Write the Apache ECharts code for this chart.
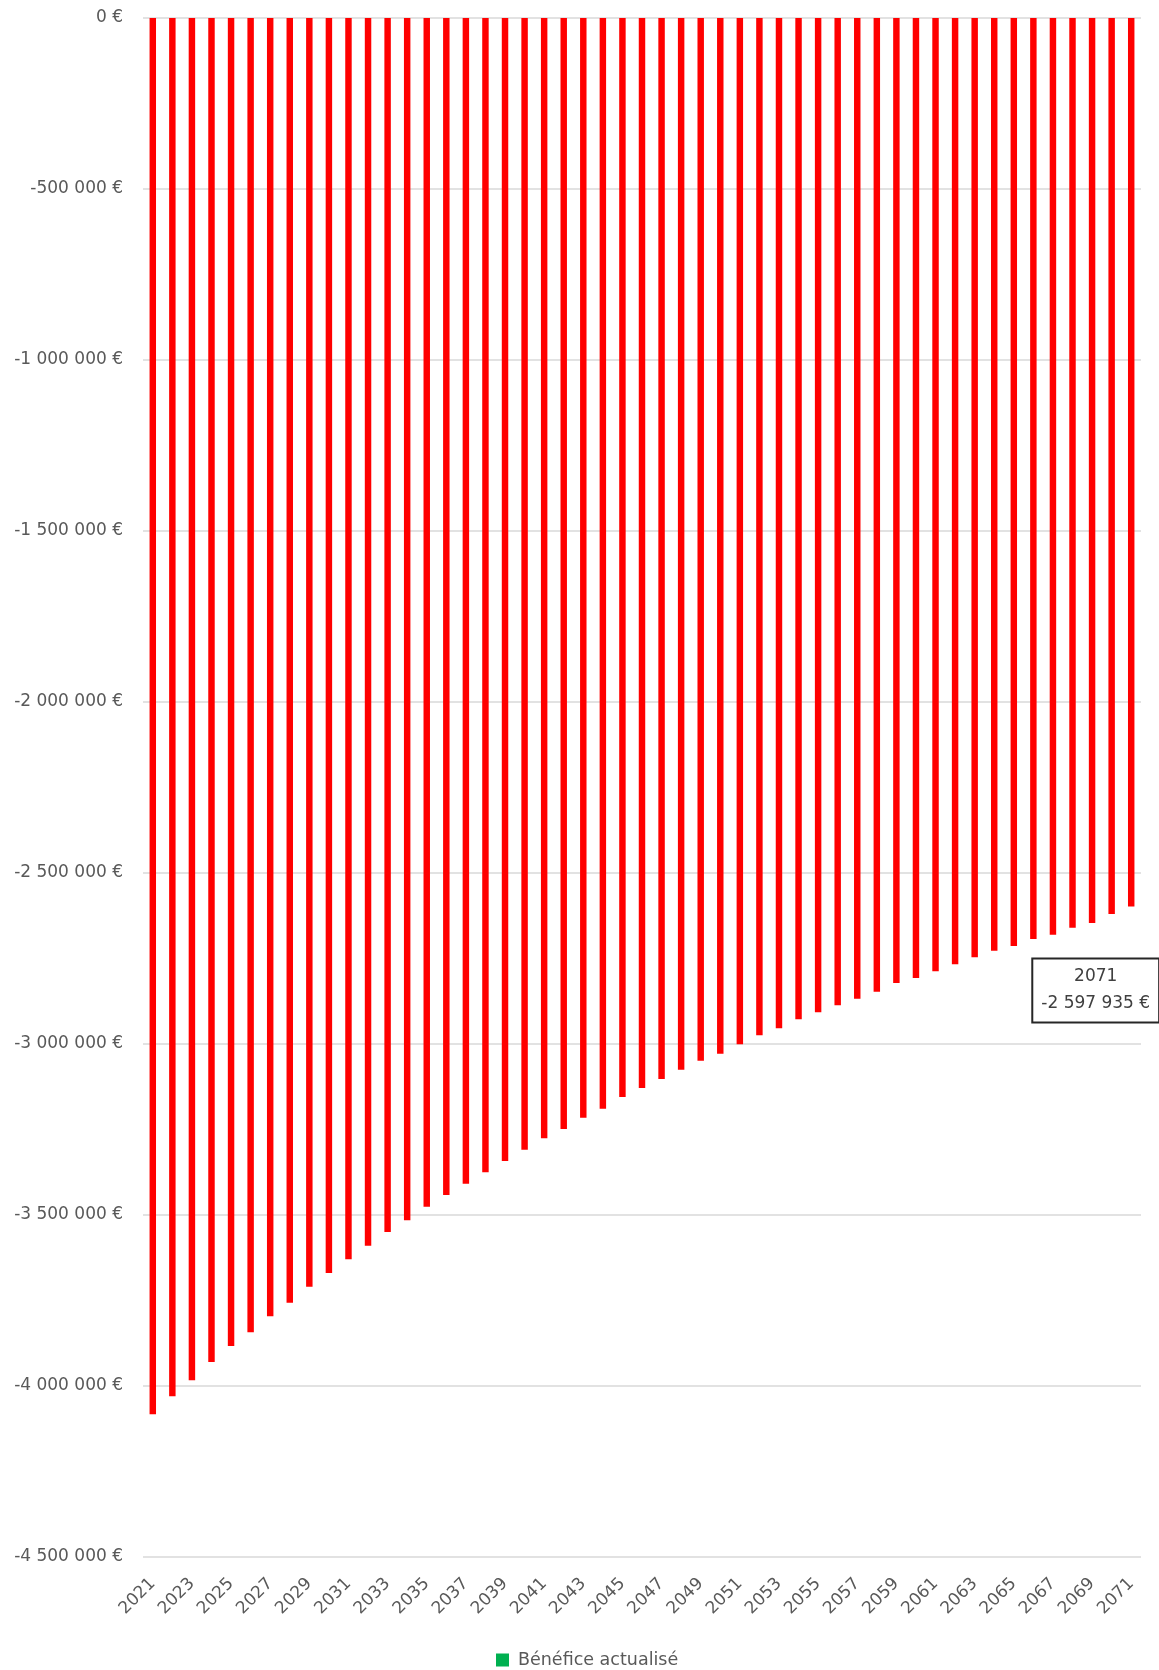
<!DOCTYPE html>
<html>
<head>
<meta charset="utf-8">
<script src="https://cdn.jsdelivr.net/npm/echarts@6/dist/echarts.min.js"></script>
<style>
  html, body { margin: 0; padding: 0; background: #ffffff; }
  #chart { width: 1159px; height: 1670px; }
</style>
</head>
<body>
<div id="chart"></div>
<script>
const years = ['2021','2022','2023','2024','2025','2026','2027','2028','2029','2030',
  '2031','2032','2033','2034','2035','2036','2037','2038','2039','2040',
  '2041','2042','2043','2044','2045','2046','2047','2048','2049','2050',
  '2051','2052','2053','2054','2055','2056','2057','2058','2059','2060',
  '2061','2062','2063','2064','2065','2066','2067','2068','2069','2070','2071'];

const beneficeActualise = [-4082900,-4030200,-3983400,-3930000,-3883100,-3843100,-3796300,-3756400,-3709600,-3669600,
  -3629700,-3589700,-3549700,-3515600,-3475800,-3441600,-3408500,-3375300,-3342200,-3309200,
  -3275800,-3248600,-3215500,-3189200,-3155000,-3128700,-3102400,-3075200,-3048900,-3028400,
  -3001000,-2974700,-2954200,-2927900,-2907400,-2886900,-2867500,-2847100,-2821700,-2807100,
  -2787500,-2767000,-2746500,-2727200,-2713500,-2693000,-2680400,-2659900,-2646100,-2619900,-2597935];

const seriesName = 'Bénéfice actualisé';
const labelledYear = '2071';

function fmtEuro(v) {
  const neg = v < 0;
  const s = String(Math.round(Math.abs(v))).replace(/\B(?=(\d{3})+(?!\d))/g, ' ');
  return (neg ? '-' : '') + s + ' €';
}

const font = 'DejaVu Sans';
const textGrey = '#595959';

const dataItems = beneficeActualise.map((v, i) => {
  const item = { value: v, itemStyle: { color: '#FF0000' } };
  if (years[i] === labelledYear) {
    item.label = {
      show: true,
      position: 'bottom',
      distance: 0,
      offset: [-35.5, 53],
      formatter: (p) => p.name + '\n' + fmtEuro(p.value),
      fontFamily: font,
      fontSize: 17,
      lineHeight: 27,
      color: '#404040',
      align: 'center',
      backgroundColor: '#ffffff',
      borderColor: '#262626',
      borderWidth: 2,
      padding: [4, 8, 4, 8]
    };
  }
  return item;
});

const chart = echarts.init(document.getElementById('chart'), null, { renderer: 'canvas' });
chart.setOption({
  animation: false,
  backgroundColor: '#ffffff',
  grid: { left: 143, right: 18, top: 18, bottom: 113, containLabel: false },
  legend: {
    data: [{ name: seriesName, itemStyle: { color: '#00B050' } }],
    top: 1646,
    left: 491,
    icon: 'rect',
    itemWidth: 13,
    itemHeight: 13,
    itemGap: 10,
    textStyle: { fontFamily: font, fontSize: 17.5, color: textGrey, padding: [0, 0, 0, 4] }
  },
  xAxis: {
    type: 'category',
    data: years,
    position: 'bottom',
    axisLine: { show: false, onZero: false },
    axisTick: { show: false },
    axisLabel: {
      interval: 1,
      rotate: 45,
      margin: 24,
      fontFamily: font,
      fontSize: 17,
      color: textGrey
    },
    splitLine: { show: false }
  },
  yAxis: {
    type: 'value',
    min: -4500000,
    max: 0,
    interval: 500000,
    axisLine: { show: false },
    axisTick: { show: false },
    axisLabel: {
      margin: 20,
      fontFamily: font,
      fontSize: 17,
      color: textGrey,
      formatter: (v) => fmtEuro(v)
    },
    splitLine: { show: true, lineStyle: { color: '#d9d9d9', width: 1.5 } }
  },
  series: [{
    name: seriesName,
    type: 'bar',
    barWidth: '33%',
    itemStyle: { color: '#00B050' },
    data: dataItems
  }]
});
</script>
</body>
</html>
